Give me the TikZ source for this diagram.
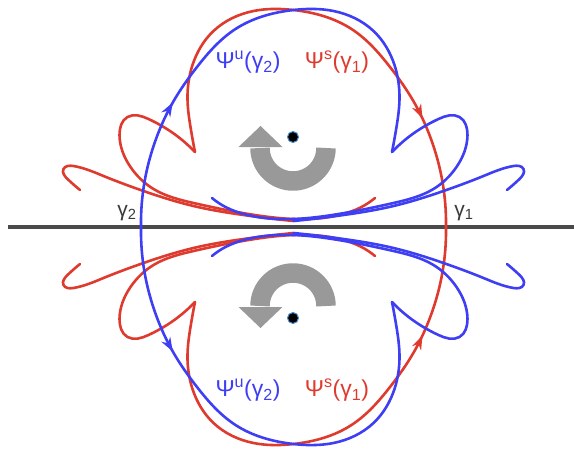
\documentclass[tikz,border=0pt]{standalone}
\usepackage{fontspec}
\setmainfont{Liberation Sans}
\definecolor{stablered}{HTML}{DE3A2E}
\definecolor{unstableblue}{HTML}{3E3EF4}
\definecolor{axisgray}{HTML}{4A4A4A}
\definecolor{labelgray}{HTML}{3A3A3A}
\definecolor{turngray}{HTML}{999999}
\definecolor{dotrim}{HTML}{4A90D0}
\usetikzlibrary{arrows.meta,decorations.markings,hobby}

\begin{document}
\begin{tikzpicture}[
  x=1pt,
  y=1pt,
  line join=round,
  line cap=round,
  branch/.style={line width=2.6pt},
  stable/.style={branch,color=stablered},
  unstable/.style={branch,color=unstableblue},
  inflow/.style={postaction={decorate},decoration={markings,
    mark=at position 112pt with {\arrowreversed{Stealth[length=14pt,width=10pt]}}}},
  outflow/.style={postaction={decorate},decoration={markings,
    mark=at position 130pt with {\arrow{Stealth[length=14pt,width=10pt]}}}},
  axisline/.style={draw=axisgray,line width=3.2pt,line cap=butt},
  turnband/.style={draw=turngray,line width=19.5pt,line cap=butt},
  fixedpt/.style={circle,fill=black,draw=dotrim,line width=1pt,minimum size=11pt,inner sep=0pt},
  maniflabel/.style={font=\fontsize{23}{27}\selectfont,inner sep=1pt},
  orbitlabel/.style={font=\fontsize{21}{25}\selectfont,text=labelgray,inner sep=1pt},
  % branch leaving the orbit on the axis, over the top, down to the fold
  overarc/.style={insert path={
    (152.5,0) to[curve through={(149,45) (136,92) (121,124) (96.5,160) (58,198) (0,217)
      (-40,216) (-80,196) (-101,162) (-106,128) (-103,100)}] (-98.5,75)}},
  % first lobe, from the fold back along the axis
  firstlobe/.style={insert path={
    (-98.5,75) to[curve through={(-122,95) (-145,108) (-166,110) (-174,92) (-163,60)
      (-140,38) (-100,24) (-45,13) (0,8) (46,12) (68,20)}] (81.5,29)}},
  % outer lobe, squeezed along the axis
  sidelobe/.style={insert path={
    (-213.5,37) to[curve through={(-226,48) (-230,58) (-220,61) (-190,51) (-150,36)
      (-100,21) (-50,12)}] (0,6)}}
]
  \useasboundingbox (-293.5,-224) rectangle (280.5,227);

  \coordinate (axisstart) at (-285.5,0);
  \coordinate (axisend) at (280.5,0);
  \draw[axisline] (axisstart) -- (axisend);

  \foreach \flip in {1,-1}{
    \begin{scope}[yscale=\flip]
      \draw[stable,inflow,overarc];
      \draw[stable,firstlobe];
      \draw[stable,sidelobe];
      \begin{scope}[xscale=-1]
        \draw[unstable,outflow,overarc];
        \draw[unstable,firstlobe];
        \draw[unstable,sidelobe];
      \end{scope}
      \draw[turnband] (32.5,79) arc[start angle=0,end angle=-180,radius=33];
      \fill[turngray] (-55,80) -- (-11,80) -- (-33,101) -- cycle;
    \end{scope}
  }

  \node[fixedpt] (upperfocus) at (-0.5,90) {};
  \node[fixedpt] (lowerfocus) at (-0.5,-91) {};

  \node[maniflabel,text=unstableblue] (wuupper) at (-45.5,165) {Ψ\textsuperscript{u}(γ\textsubscript{2})};
  \node[maniflabel,text=stablered] (wsupper) at (43.5,165) {Ψ\textsuperscript{s}(γ\textsubscript{1})};
  \node[maniflabel,text=unstableblue] (wulower) at (-45.5,-163) {Ψ\textsuperscript{u}(γ\textsubscript{2})};
  \node[maniflabel,text=stablered] (wslower) at (43.5,-163) {Ψ\textsuperscript{s}(γ\textsubscript{1})};

  \node[orbitlabel] (gammatwo) at (-166.5,14) {γ\textsubscript{2}};
  \node[orbitlabel] (gammaone) at (170.5,14) {γ\textsubscript{1}};
\end{tikzpicture}
\end{document}
